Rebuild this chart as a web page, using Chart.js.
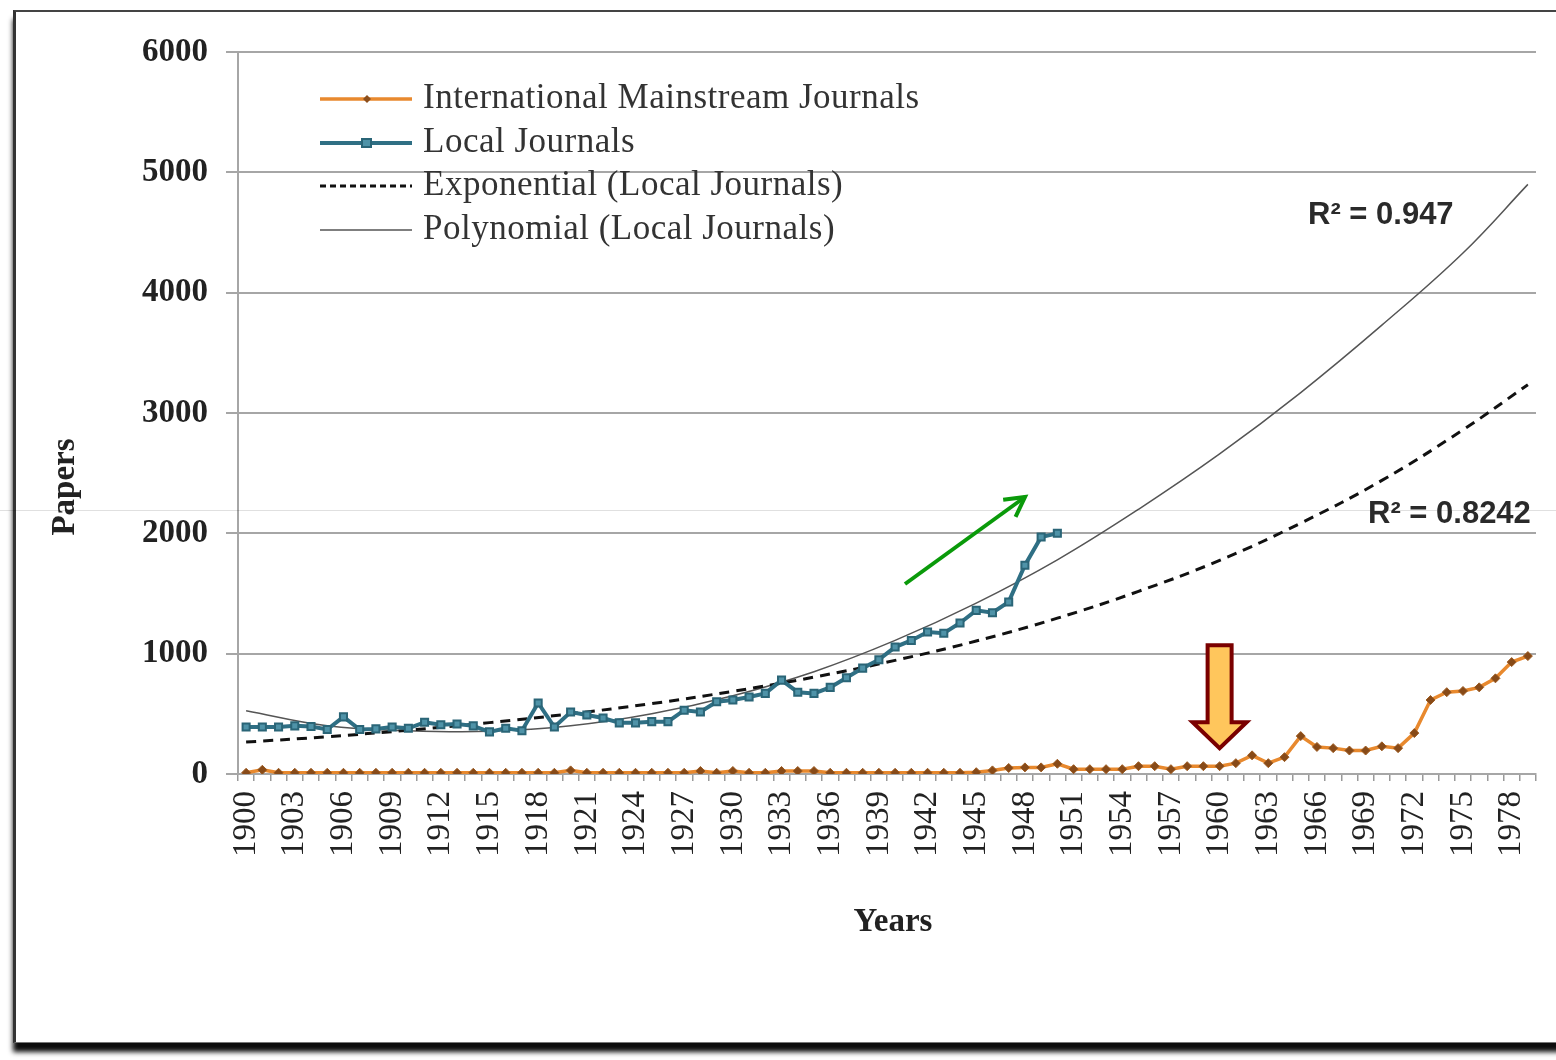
<!DOCTYPE html>
<html>
<head>
<meta charset="utf-8">
<script src="https://cdn.jsdelivr.net/npm/chart.js@4.4.0/dist/chart.umd.min.js"></script>
<style>
  html, body { margin: 0; padding: 0; background: #fff; overflow: hidden; }
  #frame {
    position: absolute; left: 13px; top: 10px; width: 1600px; height: 1030px;
    border-left: 3px solid #333; border-top: 2px solid #444; border-bottom: 1px solid #777;
    box-shadow: 0 9px 5px rgba(0,0,0,0.95); background: #fff;
  }
  #wrap { position: absolute; left: 0; top: 0; width: 1556px; height: 1060px; }
</style>
</head>
<body>
<div id="frame"></div>
<div id="wrap"><canvas id="chart"></canvas></div>
<script>
// ============================================================
// Papers per year — local vs international journals, 1900-1979
// ============================================================

const years = [
  '1900','1901','1902','1903','1904','1905','1906','1907','1908','1909',
  '1910','1911','1912','1913','1914','1915','1916','1917','1918','1919',
  '1920','1921','1922','1923','1924','1925','1926','1927','1928','1929',
  '1930','1931','1932','1933','1934','1935','1936','1937','1938','1939',
  '1940','1941','1942','1943','1944','1945','1946','1947','1948','1949',
  '1950','1951','1952','1953','1954','1955','1956','1957','1958','1959',
  '1960','1961','1962','1963','1964','1965','1966','1967','1968','1969',
  '1970','1971','1972','1973','1974','1975','1976','1977','1978','1979'
];

// International mainstream journals, 1900-1979
const intlPapers = [
  10, 35, 10, 10, 10, 10, 10, 10, 10, 10,
  10, 10, 10, 10, 10, 10, 10, 10, 10, 10,
  30, 10, 10, 10, 10, 10, 10, 10, 25, 10,
  25, 10, 10, 25, 25, 25, 10, 10, 10, 10,
  10, 10, 10, 10, 10, 15, 30, 50, 55, 55,
  85, 40, 40, 40, 40, 65, 65, 40, 65, 65,
  65, 90, 155, 90, 140, 315, 225, 215, 195, 195,
  230, 215, 340, 615, 680, 690, 720, 795, 930, 980
];

// Local journals, 1900-1950
const localPapers = [
  390, 390, 390, 400, 395, 370, 475, 370, 375, 390,
  380, 430, 410, 415, 400, 350, 380, 360, 590, 390,
  515, 490, 465, 425, 425, 435, 435, 530, 515, 600,
  615, 640, 670, 780, 680, 670, 720, 800, 880, 950,
  1055, 1110, 1180, 1170, 1255, 1360, 1340, 1430, 1735, 1970,
  2000
];

// trend lines (every 5 years)
const trendYears = ['1900','1905','1910','1915','1920','1925','1930','1935','1940',
                    '1945','1950','1955','1960','1965','1970','1975','1979'];
const expTrend   = [265, 310, 364, 427, 500, 585, 687, 805, 944,
                    1105, 1295, 1518, 1775, 2085, 2440, 2860, 3235];
const polyTrend  = [525, 400, 360, 355, 400, 500, 650, 850, 1110,
                    1420, 1780, 2200, 2660, 3170, 3730, 4330, 4900];

const yTicks = [0, 1000, 2000, 3000, 4000, 5000, 6000];

const SERIF = '"Liberation Serif", "Times New Roman", serif';
const SANS  = '"Liberation Sans", Arial, sans-serif';

const INTL_COLOR  = '#e8892e';
const LOCAL_COLOR = '#2f6f84';

const decor = {
  id: 'decor',
  afterDraw(chart) {
    const { ctx, scales: { x, y } } = chart;
    ctx.save();

    // faint scan line across the picture
    ctx.strokeStyle = 'rgba(0,0,0,0.12)';
    ctx.lineWidth = 1;
    ctx.beginPath(); ctx.moveTo(0, 510.5); ctx.lineTo(1556, 510.5); ctx.stroke();

    // axis titles
    ctx.fillStyle = '#222';
    ctx.textAlign = 'center';
    ctx.textBaseline = 'middle';
    ctx.font = 'bold 33px ' + SERIF;
    ctx.fillText('Years', 893, 922);
    ctx.save();
    ctx.translate(65, 487);
    ctx.rotate(-Math.PI / 2);
    ctx.fillText('Papers', 0, 0);
    ctx.restore();

    // legend
    const lx0 = 320, lx1 = 412, tx = 423;
    const rows = [99, 143, 186, 230];
    ctx.font = '35px ' + SERIF;
    ctx.letterSpacing = '0.5px';
    ctx.textAlign = 'left';
    chart.data.datasets.forEach((ds, i) => {
      const ry = rows[i];
      ctx.save();
      ctx.strokeStyle = ds.borderColor;
      ctx.lineWidth = ds.borderWidth;
      ctx.setLineDash(ds.borderDash ? [6, 4] : []);
      ctx.beginPath(); ctx.moveTo(lx0, ry); ctx.lineTo(lx1, ry); ctx.stroke();
      ctx.restore();
      if (i === 0) {
        ctx.fillStyle = '#8c4f1c';
        ctx.beginPath();
        ctx.moveTo(367, ry - 4); ctx.lineTo(371, ry); ctx.lineTo(367, ry + 4); ctx.lineTo(363, ry);
        ctx.closePath(); ctx.fill();
      } else if (i === 1) {
        ctx.fillStyle = '#4f93a8';
        ctx.strokeStyle = '#2a6577';
        ctx.lineWidth = 2;
        ctx.fillRect(362, ry - 4, 9, 8);
        ctx.strokeRect(362, ry - 4, 9, 8);
      }
      ctx.fillStyle = '#333';
      ctx.fillText(ds.label, tx, ry);
    });
    ctx.letterSpacing = '0px';

    // R² labels
    ctx.font = 'bold 31px ' + SANS;
    ctx.fillStyle = '#2a2a2a';
    ctx.textAlign = 'left';
    ctx.fillText('R² = 0.947', 1308, 215);
    ctx.fillText('R² = 0.8242', 1368, 514);

    // green arrow
    ctx.strokeStyle = '#0a9a0a';
    ctx.lineWidth = 4;
    ctx.lineCap = 'butt';
    const ax0 = 905, ay0 = 584, ax1 = 1025, ay1 = 497;
    ctx.beginPath(); ctx.moveTo(ax0, ay0); ctx.lineTo(ax1, ay1); ctx.stroke();
    const ang = Math.atan2(ay1 - ay0, ax1 - ax0);
    ctx.beginPath();
    ctx.moveTo(ax1 - 22 * Math.cos(ang - 0.5), ay1 - 22 * Math.sin(ang - 0.5));
    ctx.lineTo(ax1, ay1);
    ctx.lineTo(ax1 - 22 * Math.cos(ang + 0.5), ay1 - 22 * Math.sin(ang + 0.5));
    ctx.stroke();

    // block arrow pointing at 1960
    const cx = x.getPixelForValue(years.indexOf('1960'));
    const top = y.getPixelForValue(1070), neck = y.getPixelForValue(430), tip = y.getPixelForValue(215);
    ctx.beginPath();
    ctx.moveTo(cx - 12, top); ctx.lineTo(cx + 12, top); ctx.lineTo(cx + 12, neck);
    ctx.lineTo(cx + 27, neck); ctx.lineTo(cx, tip); ctx.lineTo(cx - 27, neck);
    ctx.lineTo(cx - 12, neck); ctx.closePath();
    ctx.fillStyle = '#ffc65c';
    ctx.fill();
    ctx.strokeStyle = '#7a0000';
    ctx.lineWidth = 4;
    ctx.lineJoin = 'miter';
    ctx.stroke();

    ctx.restore();
  }
};

new Chart(document.getElementById('chart'), {
  type: 'line',
  data: {
    labels: years,
    datasets: [
      {
        label: 'International Mainstream Journals',
        data: intlPapers,
        borderColor: INTL_COLOR, borderWidth: 3.5,
        pointStyle: 'rectRot', pointRadius: 4.5,
        pointBackgroundColor: '#874a18', pointBorderColor: '#9c5a20', pointBorderWidth: 1,
        order: 1,
      },
      {
        label: 'Local Journals',
        data: localPapers,
        borderColor: LOCAL_COLOR, borderWidth: 4,
        pointStyle: 'rect', pointRadius: 5,
        pointBackgroundColor: '#4f93a8', pointBorderColor: '#2a6577', pointBorderWidth: 2,
        order: 2,
      },
      {
        label: 'Exponential (Local Journals)',
        data: trendYears.map((yr, i) => ({ x: yr, y: expTrend[i] })),
        borderColor: '#111', borderWidth: 3, borderDash: [10, 7],
        pointRadius: 0, tension: 0.4,
        order: 3,
      },
      {
        label: 'Polynomial (Local Journals)',
        data: trendYears.map((yr, i) => ({ x: yr, y: polyTrend[i] })),
        borderColor: '#555', borderWidth: 1.5,
        pointRadius: 0, tension: 0.4,
        order: 4,
      },
    ]
  },
  options: {
    responsive: true,
    maintainAspectRatio: false,
    animation: false,
    devicePixelRatio: 1,
    layout: { padding: { top: 52, right: 20, bottom: 0, left: 0 } },
    plugins: { legend: { display: false }, tooltip: { enabled: false } },
    scales: {
      x: {
        offset: true,
        grid: { drawOnChartArea: false, offset: true, tickLength: 7, color: '#999', lineWidth: 1.5 },
        border: { color: '#a6a6a6', width: 2 },
        ticks: {
          autoSkip: false, maxRotation: 90, minRotation: 90, padding: 10,
          color: '#222', font: { family: SERIF, size: 33 },
          callback: (v, i) => (i % 3 === 0 ? years[i] : ''),
        },
        afterFit: s => { s.height = 286; s.paddingLeft = 0; s.paddingRight = 0; },
      },
      y: {
        min: yTicks[0], max: yTicks[yTicks.length - 1],
        afterBuildTicks: s => { s.ticks = yTicks.map(v => ({ value: v })); },
        grid: { color: '#a6a6a6', lineWidth: 2, tickLength: 12 },
        border: { color: '#a6a6a6', width: 2 },
        ticks: {
          padding: 18, color: '#222', font: { family: SERIF, size: 33, weight: 'bold' },
          callback: v => String(v),
        },
        afterFit: s => { s.width = 238; },
      }
    }
  },
  plugins: [decor]
});
</script>
</body>
</html>
